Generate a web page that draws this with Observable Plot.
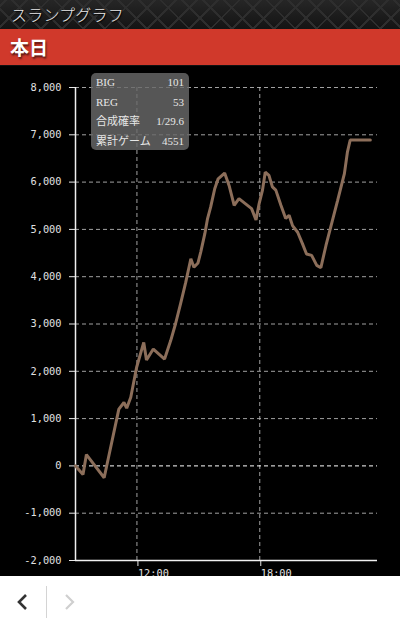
<!DOCTYPE html>
<html>
<head>
<meta charset="utf-8">
<script src="https://cdn.jsdelivr.net/npm/d3@7"></script>
<script src="https://cdn.jsdelivr.net/npm/@observablehq/plot@0.6"></script>
<style>
  html, body { margin: 0; padding: 0; background: #fff; }
  body { width: 400px; height: 627px; position: relative; overflow: hidden; font-family: "Noto Sans CJK JP", sans-serif; }
  #hdr { position: absolute; left: 0; top: 0; width: 400px; height: 29px;
    background-color: #1d1d1d;
    background-image:
      repeating-linear-gradient(45deg, transparent 0 13px, #2e2e2e 13px 15px),
      repeating-linear-gradient(-45deg, transparent 0 13px, #2e2e2e 13px 15px),
      linear-gradient(#262626, #141414);
  }
  #hdr span { position: absolute; left: 11px; top: 4px; color: #e8e8e8; font-size: 16px; font-weight: 300; letter-spacing: 0.2px; text-shadow: 1px 1px 1px #000; line-height: 20px; }
  #red { position: absolute; left: 0; top: 29px; width: 400px; height: 36px; background: #d0392b; }
  #red span { position: absolute; left: 10px; top: 6px; color: #fff; font-size: 19px; font-weight: 700; line-height: 24px; text-shadow: 1px 2px 2px rgba(0,0,0,0.6); }
  #sep { position: absolute; left: 0; top: 65px; width: 400px; height: 1px; background: #111; }
  #chart { position: absolute; left: 0; top: 66px; width: 400px; height: 510px; background: #000; overflow: hidden; }
  #chart svg { position: absolute; left: 0; top: 0; }
  #tip { position: absolute; left: 91px; top: 7px; width: 98px; height: 77px; border-radius: 5px;
    background: rgba(105,105,105,0.82); font-family: "Liberation Serif", "DejaVu Serif", "Noto Sans CJK JP", serif; font-size: 11px; color: #e6e6e6; }
  #tip div { position: absolute; left: 5px; right: 5px; height: 14px; line-height: 14px; }
  #tip div span.v { position: absolute; right: 0; }
  #footer { position: absolute; left: 0; top: 576px; width: 400px; height: 51px; background: #fff; }
</style>
</head>
<body>
<div id="hdr"><span>スランプグラフ</span></div>
<div id="red"><span>本日</span></div>
<div id="sep"></div>
<div id="chart">
</div>
<div id="footer">
  <svg width="400" height="51">
    <polyline points="26,19 19,26 26,33" fill="none" stroke="#333" stroke-width="2.6"/>
    <line x1="46.5" y1="10" x2="46.5" y2="42" stroke="#d4d4d4" stroke-width="1"/>
    <polyline points="66,19 73,26 66,33" fill="none" stroke="#cfcfcf" stroke-width="2.2"/>
  </svg>
</div>
<script>
// ---- data ----
const times = ["09:00","09:22","09:32","10:24","11:07","11:22","11:30","11:42","11:59","12:20","12:28","12:48","13:21","13:39","13:53","14:08","14:23","14:38","14:47","14:59","15:07","15:19","15:27","15:36","15:48","15:58","16:17","16:30","16:45","16:59","17:36","17:49","17:58","18:08","18:16","18:27","18:37","18:47","19:02","19:16","19:26","19:36","19:51","20:05","20:17","20:32","20:47","20:59","21:14","21:29","21:48","22:08","22:17","22:25","23:24"];
const values = [0,-180,240,-250,1200,1340,1220,1450,2080,2610,2240,2470,2260,2650,3000,3430,3880,4380,4200,4290,4520,4910,5230,5470,5860,6070,6190,5930,5510,5650,5440,5200,5540,5830,6210,6140,5900,5830,5510,5230,5300,5080,4940,4700,4480,4450,4240,4190,4660,5080,5610,6180,6640,6890,6890];
const yTicks = [-2000,-1000,0,1000,2000,3000,4000,5000,6000,7000,8000];
const xTickLabels = ["12:00","18:00"];
const xDomainLabels = ["09:00","23:45"];
const statLabels = ["BIG","REG","合成確率","累計ゲーム"];
const statValues = ["101","53","1/29.6","4551"];

const parseT = s => { const [h,m] = s.split(":").map(Number); return new Date(2024,0,1,h,m); };
const data = times.map((t,i) => ({t: parseT(t), v: values[i]}));
const xTicks = xTickLabels.map(parseT);
const xDomain = xDomainLabels.map(parseT);
const fmtY = d => d.toLocaleString("en-US");
const fmtX = d3.timeFormat("%H:%M");

const chart = Plot.plot({
  width: 400,
  height: 520,
  marginLeft: 75,
  marginRight: 23,
  marginTop: 21,
  marginBottom: 26,
  style: { background: "transparent", color: "#e0e0e0", fontFamily: "'DejaVu Sans Mono', monospace", fontSize: "10.3px" },
  x: { type: "time", domain: xDomain },
  y: { domain: [-2000, 8000] },
  marks: [
    Plot.gridY(yTicks.filter(d => d !== -2000 && d !== 0), { stroke: "#bdbdbd", strokeOpacity: 0.85, strokeDasharray: "4,3" }),
    Plot.gridX(xTicks, { stroke: "#bdbdbd", strokeOpacity: 0.85, strokeDasharray: "4,3" }),
    Plot.ruleY([0], { stroke: "#ffffff", strokeDasharray: "4,3", strokeWidth: 1 }),
    Plot.axisY(yTicks, { tickFormat: fmtY, tickSize: 6, tickPadding: 8, label: null, stroke: "#e8e8e8" }),
    Plot.axisX(xTicks, { tickFormat: fmtX, tickSize: 6, tickPadding: 3, textAnchor: "start", dx: 1, label: null, stroke: "#e8e8e8" }),
    Plot.ruleX([xDomain[0]], { stroke: "#f0f0f0", strokeWidth: 1.5 }),
    Plot.ruleY([-2000], { stroke: "#f0f0f0", strokeWidth: 1.5 }),
    Plot.line(data, { x: "t", y: "v", stroke: "#8c6e5a", strokeWidth: 3, strokeLinejoin: "miter", curve: "linear" })
  ]
});
const host = document.getElementById("chart");
host.appendChild(chart);

// stats box (overlay)
const tip = document.createElement("div");
tip.id = "tip";
statLabels.forEach((lab, i) => {
  const row = document.createElement("div");
  row.style.top = (2 + i * 19.7) + "px";
  const a = document.createElement("span"); a.textContent = lab;
  const b = document.createElement("span"); b.className = "v"; b.textContent = statValues[i];
  row.appendChild(a); row.appendChild(b);
  tip.appendChild(row);
});
host.appendChild(tip);
</script>
</body>
</html>
